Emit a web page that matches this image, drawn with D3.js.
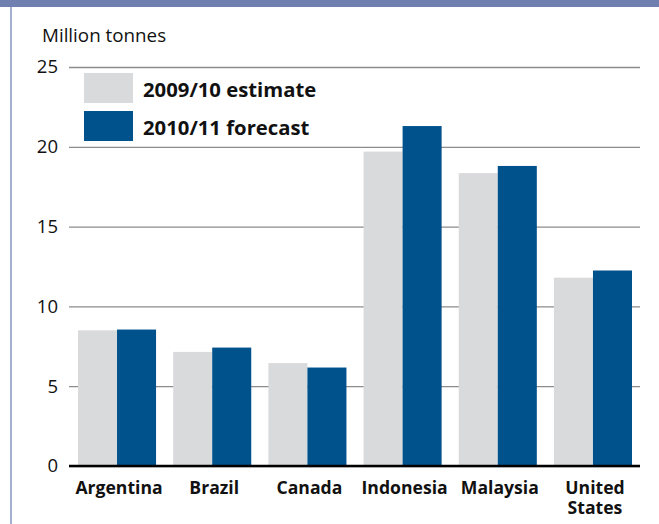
<!DOCTYPE html>
<html><head><meta charset="utf-8">
<script src="https://cdn.jsdelivr.net/npm/d3@7"></script>
<style>html,body{margin:0;padding:0;background:#fff}svg{display:block}</style>
</head><body>
<script>
const categories = ["Argentina", "Brazil", "Canada", "Indonesia", "Malaysia", "United States"];
const seriesNames = ["2009/10 estimate", "2010/11 forecast"];
const estimate2009 = [8.5, 7.15, 6.45, 19.7, 18.35, 11.8];
const forecast2010 = [8.55, 7.42, 6.17, 21.3, 18.8, 12.25];
const yTicks = [0, 5, 10, 15, 20, 25];
const yLabel = "Million tonnes";

const W = 659, H = 524;
const colors = ["#d9dadc", "#00528d"];
const font = "'Open Sans', sans-serif";

const svg = d3.select("body").append("svg").attr("width", W).attr("height", H);

// frame
svg.append("rect").attr("x", 0).attr("y", 0).attr("width", W).attr("height", 7).attr("fill", "#6f80b0");
svg.append("line").attr("x1", 11).attr("x2", 11).attr("y1", 7).attr("y2", H).attr("stroke", "#8797c0").attr("stroke-width", 1.5);

const y = d3.scaleLinear().domain([0, 25]).range([466, 67]);
const x0 = d3.scaleBand().domain(categories).range([78, 632]).paddingInner(0.18).paddingOuter(0);
const x1 = d3.scaleBand().domain([0, 1]).range([0, x0.bandwidth()]);

// gridlines + axis
const yAxis = d3.axisLeft(y).tickValues(yTicks).tickSize(-(640 - 69)).tickPadding(11).tickFormat(d3.format("d"));
const gAxis = svg.append("g").attr("transform", "translate(69,0)").call(yAxis);
gAxis.select(".domain").remove();
gAxis.selectAll(".tick line").attr("stroke", "#8c8c8c").attr("stroke-width", 1.3);
gAxis.selectAll(".tick text").attr("font-family", font).attr("font-size", 18.5).attr("fill", "#111");

// bars
const groups = svg.append("g").selectAll("g").data(categories).join("g")
  .attr("transform", d => `translate(${x0(d)},0)`);
groups.selectAll("rect").data((d, i) => [estimate2009[i], forecast2010[i]]).join("rect")
  .attr("x", (d, j) => x1(j)).attr("width", x1.bandwidth())
  .attr("y", d => y(d)).attr("height", d => y(0) - y(d))
  .attr("fill", (d, j) => colors[j]);

// baseline
svg.append("line").attr("x1", 69).attr("x2", 640).attr("y1", y(0)).attr("y2", y(0))
  .attr("stroke", "#000").attr("stroke-width", 2.6);

// category labels
const lab = svg.append("g").selectAll("text").data(categories).join("text")
  .attr("font-family", font).attr("font-weight", "bold").attr("font-size", 17.6).attr("fill", "#111")
  .attr("text-anchor", "middle")
  .attr("x", d => x0(d) + x0.bandwidth() / 2 + 2)
  .attr("y", 494);
lab.each(function(d) {
  const words = d === "United States" ? ["United", "States"] : [d];
  const t = d3.select(this);
  words.forEach((w, k) => t.append("tspan").attr("x", t.attr("x")).attr("dy", k === 0 ? 0 : 19.5).text(w));
});

// y label
svg.append("text").attr("x", 42).attr("y", 42).attr("font-family", font).attr("font-size", 18.8)
  .attr("fill", "#111").text(yLabel);

// legend
const leg = svg.append("g").selectAll("g").data(seriesNames).join("g")
  .attr("transform", (d, i) => `translate(84,${73 + i * 38})`);
leg.append("rect").attr("width", 49).attr("height", 30).attr("fill", (d, i) => colors[i]);
leg.append("text").attr("x", 59).attr("y", 24).attr("font-family", font).attr("font-weight", "bold")
  .attr("font-size", 20.3).attr("fill", "#111").text(d => d);
</script>
</body></html>
